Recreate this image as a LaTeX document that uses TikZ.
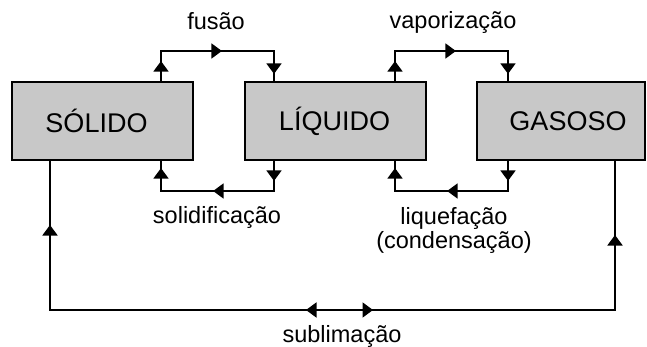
\documentclass[tikz,border=0pt]{standalone}
\usepackage{fontspec}
\setmainfont{Liberation Sans}
\usetikzlibrary{arrows.meta,decorations.markings}
\definecolor{boxgray}{RGB}{200,200,200}
\tikzset{
  statebox/.style={draw=black, line width=1.8pt, fill=boxgray, minimum height=78pt, inner sep=0pt, font=\fontsize{27}{30}\selectfont},
  conn/.style={line width=1.8pt, line join=miter},
  lbl/.style={font=\fontsize{23.5}{24}\selectfont, align=center, inner sep=0pt},
  tri/.tip={Triangle[width=15pt,length=10.5pt]},
  marks/.style={postaction={decorate,decoration={markings,#1}}},
}
\begin{document}
\begin{tikzpicture}[x=1pt,y=-1pt]
\useasboundingbox (0,0) rectangle (647,347);
\node[statebox, minimum width=181pt] (S) at (102.5,121) {SÓLIDO\hspace*{12pt}};
\node[statebox, minimum width=181pt] (L) at (335.5,121) {LÍQUIDO\hspace*{2pt}};
\node[statebox, minimum width=168pt] (G) at (561,121) {\hspace*{14pt}GASOSO};

\coordinate (f1) at (161,51);
\coordinate (f2) at (274,51);
\coordinate (s1) at (274,191);
\coordinate (s2) at (161,191);
\coordinate (v1) at (395,51);
\coordinate (v2) at (508,51);
\coordinate (q1) at (508,191);
\coordinate (q2) at (395,191);
\coordinate (m) at (340,310);
\coordinate (b1) at (50,310);
\coordinate (b2) at (615,310);

\tikzset{loop/.style={conn, marks={mark=at position 20pt with {\arrow{tri}},
  mark=at position 91pt with {\arrow{tri}},
  mark=at position 166pt with {\arrow{tri}}}}}

\draw[loop] (S.north -| f1) -- (f1) -- (f2) -- (L.north -| f2);
\draw[loop] (L.south -| s1) -- (s1) -- (s2) -- (S.south -| s2);
\draw[loop] (L.north -| v1) -- (v1) -- (v2) -- (G.north -| v2);
\draw[loop] (G.south -| q1) -- (q1) -- (q2) -- (L.south -| q2);

\draw[conn, marks={mark=at position 34pt with {\arrow{tri}}, mark=at position 375pt with {\arrow{tri}}}]
  (m) -- (b1) -- (S.south -| b1);
\draw[conn, marks={mark=at position 33pt with {\arrow{tri}}, mark=at position 350pt with {\arrow{tri}}}]
  (m) -- (b2) -- (G.south -| b2);

\node[lbl, anchor=base] (tf) at (216,30) {fusão};
\node[lbl, anchor=base] (tv) at (453,29) {vaporização};
\node[lbl, anchor=base] (ts) at (217,223) {solidificação};
\node[lbl, anchor=north] (tq) at (454,207) {liquefação\\(condensação)};
\node[lbl, anchor=base] (tb) at (342,342) {sublimação};
\end{tikzpicture}
\end{document}
